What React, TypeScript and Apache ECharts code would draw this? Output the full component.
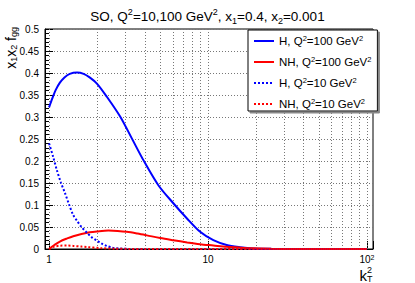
import React, { useEffect, useRef } from 'react';
import * as echarts from 'echarts';

const FONT = '"Liberation Sans", Arial, Helvetica, sans-serif';

// k_T^2 sample points and x1x2 f_gg values
const kH100 = [1.0, 1.05, 1.1, 1.17, 1.25, 1.35, 1.5, 1.65, 1.8, 2.0, 2.31, 2.8, 3.31, 3.92, 4.87, 6.05, 7.35, 8.92, 10.8, 13.1, 15.9, 19.3, 25, 30, 50, 100];
const vH100 = [0.322, 0.343, 0.361, 0.378, 0.39, 0.398, 0.401, 0.398, 0.39, 0.376, 0.346, 0.301, 0.252, 0.202, 0.145, 0.104, 0.07, 0.039, 0.02, 0.009, 0.004, 0.001, 0.0003, 0, 0, 0];

const kNH100 = [1.0, 1.08, 1.17, 1.3, 1.42, 1.6, 1.8, 2.0, 2.36, 2.7, 3.08, 3.6, 4.12, 5.0, 6.05, 7.4, 8.9, 10.8, 13.1, 16, 19.3, 25, 35, 100];
const vNH100 = [0, 0.009, 0.017, 0.024, 0.029, 0.034, 0.038, 0.04, 0.042, 0.041, 0.039, 0.035, 0.031, 0.025, 0.02, 0.015, 0.011, 0.008, 0.005, 0.003, 0.0015, 0.0005, 0.0001, 0];

const kH10 = [1.0, 1.06, 1.118, 1.19, 1.26, 1.34, 1.42, 1.5, 1.6, 1.73, 1.85, 2.0, 2.15, 2.31, 2.5, 2.8, 3.2, 4, 100];
const vH10 = [0.24, 0.21, 0.18, 0.15, 0.127, 0.1, 0.077, 0.064, 0.05, 0.037, 0.027, 0.019, 0.012, 0.007, 0.003, 0.001, 0.0002, 0, 0];

const kNH10 = [1.0, 1.05, 1.1, 1.17, 1.3, 1.42, 1.6, 1.73, 2.1, 2.6, 3.2, 4, 100];
const vNH10 = [0, 0.004, 0.006, 0.0075, 0.0078, 0.007, 0.0055, 0.0045, 0.002, 0.0007, 0.0002, 0, 0];

const seriesNames = ['H, Q2=100 GeV2', 'NH, Q2=100 GeV2', 'H, Q2=10 GeV2', 'NH, Q2=10 GeV2'];
const legendLabels = [
  'H, Q{s|2}=100 GeV{s|2}',
  'NH, Q{s|2}=100 GeV{s|2}',
  'H, Q{s|2}=10 GeV{s|2}',
  'NH, Q{s|2}=10 GeV{s|2}',
];
const seriesColors = ['#0000ff', '#ff0000', '#0000ff', '#ff0000'];
const seriesDotted = [false, false, true, true];

const gridK = [1, 2, 3, 4, 5, 6, 7, 8, 9, 10, 20, 30, 40, 50, 60, 70, 80, 90, 100];

const xMin = 0.943;
const xMax = 109.1;
const yMin = 0;
const yMax = 0.5;
const yStep = 0.05;

const TITLE = 'SO, Q{s|2}=10,100 GeV{s|2}, x{d|1}=0.4, x{d|2}=0.001';

export default function App() {
  const ref = useRef<HTMLDivElement>(null);

  useEffect(() => {
    if (!ref.current) return;
    const chart = echarts.init(ref.current, undefined, { renderer: 'svg' });

    const pairs = [
      [kH100, vH100],
      [kNH100, vNH100],
      [kH10, vH10],
      [kNH10, vNH10],
    ];

    const series: any[] = pairs.map(([ks, vs], i) => ({
      name: seriesNames[i],
      type: 'line',
      data: ks.map((k, j) => [k, vs[j]]),
      symbol: 'none',
      smooth: 0.3,
      z: 3,
      lineStyle: {
        color: seriesColors[i],
        width: 2,
        type: seriesDotted[i] ? [2, 2] : 'solid',
      },
      itemStyle: { color: seriesColors[i] },
    }));

    series[0].markLine = {
      silent: true,
      symbol: 'none',
      label: { show: false },
      lineStyle: { color: '#777', type: [1, 2], width: 1 },
      data: gridK.map((k) => ({ xAxis: k })),
      z: 1,
    };

    const legendFmt: Record<string, string> = {};
    seriesNames.forEach((n, i) => (legendFmt[n] = legendLabels[i]));

    chart.setOption({
      animation: false,
      backgroundColor: '#fff',
      textStyle: { fontFamily: FONT },
      title: {
        text: TITLE,
        left: 'center',
        top: 2,
        textStyle: {
          fontFamily: FONT,
          fontSize: 13.5,
          fontWeight: 'normal',
          color: '#000',
          lineHeight: 18,
          rich: {
            s: { fontSize: 9, verticalAlign: 'top', lineHeight: 10, fontFamily: FONT, color: '#000' },
            d: { fontSize: 9, verticalAlign: 'bottom', lineHeight: 10, fontFamily: FONT, color: '#000' },
          },
        },
      },
      grid: {
        left: 45,
        right: 42,
        top: 29,
        bottom: 34,
        show: true,
        borderColor: '#000',
        borderWidth: 1,
        backgroundColor: '#fff',
      },
      legend: {
        orient: 'vertical',
        left: 248,
        top: 30,
        padding: [4, 6, 0, 5],
        itemWidth: 20,
        itemHeight: 10,
        itemGap: 7,
        z: 5,
        backgroundColor: '#fff',
        borderColor: '#000',
        borderWidth: 1,
        shadowColor: '#888',
        shadowBlur: 0,
        shadowOffsetX: 2,
        shadowOffsetY: 2,
        itemStyle: { opacity: 0, borderWidth: 0 },
        data: seriesNames,
        formatter: (n: string) => legendFmt[n],
        textStyle: {
          fontFamily: FONT,
          fontSize: 11.5,
          color: '#000',
          lineHeight: 14,
          rich: {
            s: { fontSize: 7.5, verticalAlign: 'top', lineHeight: 8, fontFamily: FONT, color: '#000' },
          },
        },
      },
      xAxis: {
        type: 'log',
        logBase: 10,
        min: xMin,
        max: xMax,
        axisLine: { show: true, onZero: false, lineStyle: { color: '#000', width: 1 } },
        axisTick: { show: true, inside: true, length: 8, lineStyle: { color: '#000' } },
        splitLine: { show: false },
        axisLabel: {
          color: '#000',
          fontSize: 10,
          fontFamily: FONT,
          margin: 5,
          formatter: (v: number) => {
            const l = Math.log10(v);
            const r = Math.round(l);
            if (Math.abs(l - r) > 1e-6) return '';
            if (r === 0) return '1';
            if (r === 1) return '10';
            return '10{s|' + r + '}';
          },
          rich: {
            s: { fontSize: 7, verticalAlign: 'top', lineHeight: 8, fontFamily: FONT, color: '#000' },
          },
        },
      },
      yAxis: {
        type: 'value',
        min: yMin,
        max: yMax,
        interval: yStep,
        axisLine: { show: true, lineStyle: { color: '#000', width: 1 } },
        axisTick: { show: true, inside: true, length: 8, lineStyle: { color: '#000' } },
        minorTick: { show: true, splitNumber: 5, length: 4, lineStyle: { color: '#000' } },
        splitLine: { show: true, lineStyle: { color: '#777', type: [1, 2], width: 1 } },
        axisLabel: {
          color: '#000',
          fontSize: 10,
          fontFamily: FONT,
          margin: 6,
          formatter: (v: number) => String(Math.round(v * 100) / 100),
        },
      },
      graphic: [
        {
          type: 'text',
          x: 11,
          y: 27,
          rotation: Math.PI / 2,
          style: {
            text: 'x{d|1}x{d|2} f{d|gg}',
            fontFamily: FONT,
            fontSize: 14,
            fill: '#000',
            align: 'right',
            verticalAlign: 'middle',
            rich: {
              d: { fontSize: 9, verticalAlign: 'bottom', lineHeight: 10, fontFamily: FONT, fill: '#000' },
            },
          },
        },
        {
          type: 'text',
          x: 367,
          y: 275,
          style: { text: 'k', fontFamily: FONT, fontSize: 15, fill: '#000', align: 'right', verticalAlign: 'middle' },
        },
        {
          type: 'text',
          x: 367,
          y: 270,
          style: { text: '2', fontFamily: FONT, fontSize: 9, fill: '#000', align: 'left', verticalAlign: 'middle' },
        },
        {
          type: 'text',
          x: 367,
          y: 279,
          style: { text: 'T', fontFamily: FONT, fontSize: 9, fill: '#000', align: 'left', verticalAlign: 'middle' },
        },
      ],
      series,
    });

    return () => chart.dispose();
  }, []);

  return (
    <div
      ref={ref}
      style={{ position: 'fixed', left: 0, top: 0, width: 415, height: 283 }}
    />
  );
}
